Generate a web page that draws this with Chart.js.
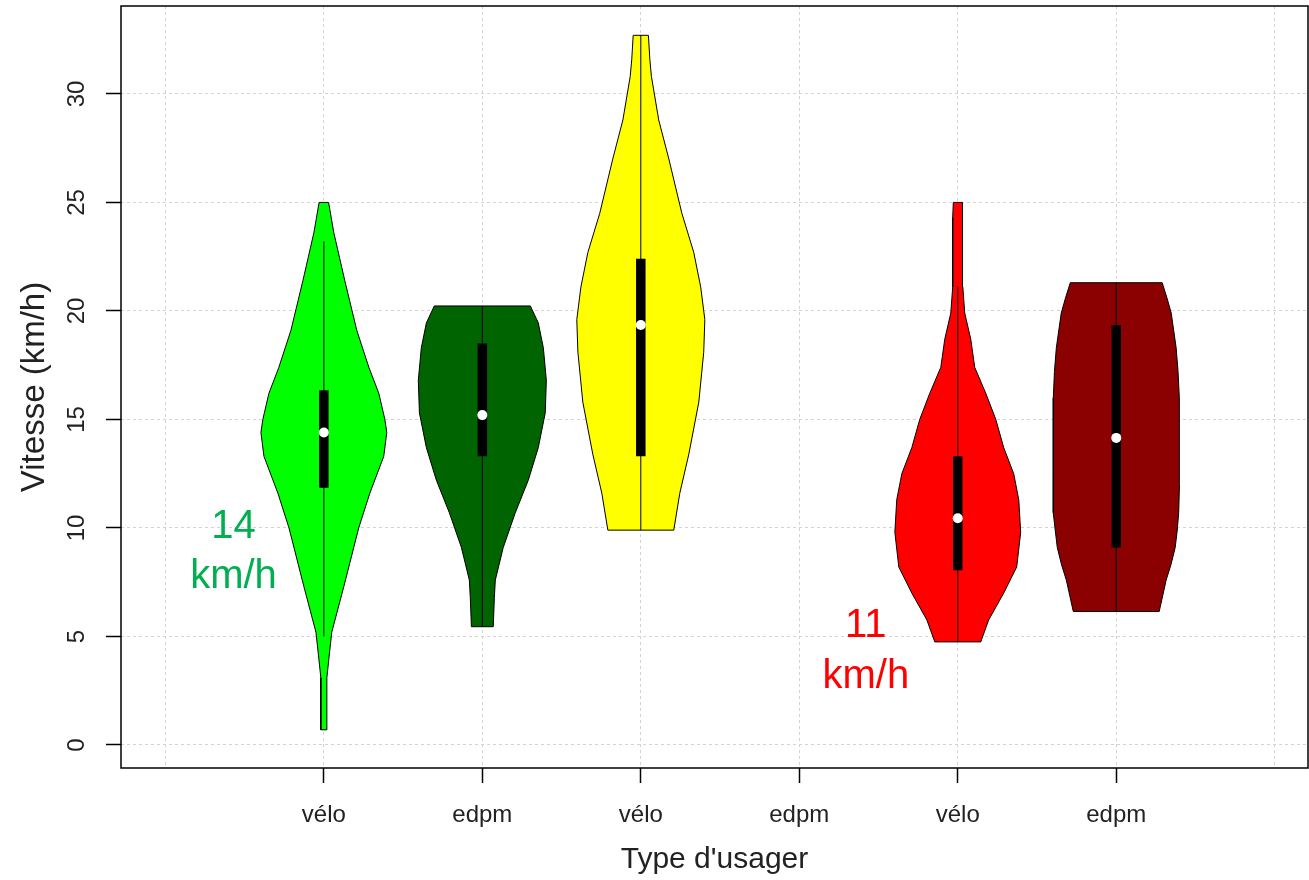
<!DOCTYPE html>
<html lang="fr">
<head>
<meta charset="utf-8">
<title>Vitesse par type d'usager</title>
<script src="https://cdn.jsdelivr.net/npm/chart.js@4.4.1/dist/chart.umd.min.js"></script>
<style>
html, body { margin: 0; padding: 0; background: #fff; }
#wrap { width: 1309px; height: 880px; position: relative; }
</style>
</head>
<body>
<div id="wrap"><canvas id="chart"></canvas></div>
<script>
/* axes */
const categories = ['vélo', 'edpm', 'vélo', 'edpm', 'vélo', 'edpm'];
const xGrid = [0, 1, 2, 3, 4, 5, 6, 7];
const yTicks = [0, 5, 10, 15, 20, 25, 30];

/* violin outlines: speed (km/h) and half width (category units) */
const v1Speed = [0.7, 3.1, 4.0, 5.2, 7.3, 10.0, 11.6, 13.3, 14.4, 15.0, 16.2, 17.4, 19.1, 21.4, 23.6, 25.0];
const v1Width = [0.019, 0.019, 0.032, 0.050, 0.126, 0.220, 0.290, 0.378, 0.397, 0.385, 0.347, 0.284, 0.208, 0.132, 0.063, 0.030];
const v2Speed = [5.45, 6.8, 7.6, 9.1, 10.7, 12.2, 13.7, 15.3, 16.8, 18.3, 19.45, 20.23];
const v2Width = [0.069, 0.076, 0.082, 0.132, 0.208, 0.290, 0.353, 0.397, 0.404, 0.385, 0.353, 0.303];
const v3Speed = [9.9, 11.6, 13.4, 15.8, 18.1, 19.6, 21.1, 22.7, 24.5, 27.0, 28.8, 30.8, 31.6, 32.7];
const v3Width = [0.208, 0.246, 0.303, 0.366, 0.397, 0.404, 0.378, 0.334, 0.259, 0.177, 0.113, 0.067, 0.057, 0.048];
const v4Speed = [4.75, 5.76, 7.0, 8.2, 9.8, 11.3, 12.5, 13.7, 15.0, 16.2, 17.4, 18.7, 19.9, 21.1, 24.3, 25.0];
const v4Width = [0.145, 0.195, 0.290, 0.372, 0.397, 0.385, 0.353, 0.290, 0.240, 0.177, 0.107, 0.082, 0.044, 0.032, 0.032, 0.028];
const v5Speed = [6.15, 7.6, 8.3, 9.1, 9.9, 10.7, 12.0, 13.7, 16.0, 17.2, 18.3, 19.9, 20.6, 21.3];
const v5Width = [0.271, 0.315, 0.345, 0.372, 0.385, 0.394, 0.399, 0.399, 0.397, 0.390, 0.378, 0.347, 0.320, 0.290];
const violinSlot = [1, 2, 3, 5, 6];

/* box stats per category (null = no data) */
const median = [14.4, 15.2, 19.35, null, 10.45, 14.15];
const q1 = [11.85, 13.3, 13.3, null, 8.05, 9.1];
const q3 = [16.35, 18.5, 22.4, null, 13.3, 19.35];
const whiskLo = [5.0, 5.45, 9.9, null, 4.75, 6.15];
const whiskHi = [23.2, 20.23, 32.7, null, 21.15, 21.3];

/* annotations */
const noteText = ['14', 'km/h', '11', 'km/h'];
const noteX = [0.43, 0.43, 4.42, 4.42];
const noteY = [9.54, 7.24, 4.98, 2.63];
const noteColor = ['#00b050', '#00b050', '#ff0000', '#ff0000'];

const fillColors = ['#00ff00', '#006400', '#ffff00', '#ff0000', '#8b0000'];
const FONT = '"Liberation Sans", Arial, sans-serif';

const outline = (c, sp, w) => {
  const right = sp.map((s, i) => ({x: c + w[i], y: s}));
  const left = sp.map((s, i) => ({x: c - w[i], y: s})).reverse();
  return [...right, ...left, right[0]];
};

const violins = [[v1Speed, v1Width], [v2Speed, v2Width], [v3Speed, v3Width], [v4Speed, v4Width], [v5Speed, v5Width]];
const datasets = [];

violins.forEach(([sp, w], i) => {
  datasets.push({
    data: outline(violinSlot[i], sp, w),
    showLine: true, fill: 'shape', backgroundColor: fillColors[i],
    borderColor: '#000', borderWidth: 1, pointRadius: 0, order: 3
  });
});

categories.forEach((c, i) => {
  if (median[i] == null) return;
  const pos = i + 1;
  datasets.push({
    data: [{x: pos, y: whiskLo[i]}, {x: pos, y: whiskHi[i]}],
    showLine: true, borderColor: '#000', borderWidth: 1, pointRadius: 0, order: 2
  });
  datasets.push({
    data: [{x: pos, y: q1[i]}, {x: pos, y: q3[i]}],
    showLine: true, borderColor: '#000', borderWidth: 9.5, borderCapStyle: 'butt', pointRadius: 0, order: 1
  });
  datasets.push({
    data: [{x: pos, y: median[i]}],
    pointRadius: 5, pointBackgroundColor: '#fff', pointBorderWidth: 0, order: 0
  });
});

/* frame, rotated y labels and text notes */
const extras = {
  id: 'extras',
  afterDraw(chart) {
    const {ctx, chartArea: a, scales: {x, y}} = chart;
    ctx.save();
    ctx.strokeStyle = '#000';
    ctx.lineWidth = 1.5;
    ctx.strokeRect(a.left, a.top, a.right - a.left, a.bottom - a.top);

    ctx.fillStyle = '#222';
    ctx.font = '24px ' + FONT;
    ctx.textAlign = 'center';
    ctx.textBaseline = 'middle';
    yTicks.forEach(v => {
      ctx.save();
      ctx.translate(a.left - 44, y.getPixelForValue(v));
      ctx.rotate(-Math.PI / 2);
      ctx.fillText(String(v), 0, 0);
      ctx.restore();
    });

    ctx.font = '40px ' + FONT;
    ctx.textBaseline = 'alphabetic';
    noteText.forEach((t, i) => {
      ctx.fillStyle = noteColor[i];
      ctx.fillText(t, x.getPixelForValue(noteX[i]), y.getPixelForValue(noteY[i]));
    });
    ctx.restore();
  }
};

new Chart(document.getElementById('chart'), {
  type: 'scatter',
  data: { datasets },
  plugins: [extras],
  options: {
    responsive: true,
    maintainAspectRatio: false,
    animation: false,
    events: [],
    layout: { autoPadding: false, padding: { top: 6, right: 1, left: 0, bottom: 0 } },
    plugins: { legend: { display: false }, tooltip: { enabled: false } },
    scales: {
      x: {
        type: 'linear', min: -0.28, max: 7.21,
        afterBuildTicks: s => { s.ticks = xGrid.map(v => ({value: v})); },
        afterFit: s => { s.height = 112; },
        border: { display: false, dash: [3, 3] },
        grid: {
          color: '#d3d3d3', lineWidth: 1,
          tickLength: 15, tickWidth: 1.5, tickBorderDash: [],
          tickColor: c => (c.tick && c.tick.value >= 1 && c.tick.value <= 6) ? '#000' : 'rgba(0,0,0,0)'
        },
        ticks: {
          autoSkip: false, maxRotation: 0, padding: 18, color: '#222',
          font: { size: 24, family: FONT },
          callback: v => categories[v - 1] ?? ''
        },
        title: {
          display: true, text: "Type d'usager", color: '#222',
          font: { size: 30, family: FONT }, padding: { top: 0, bottom: 2 }
        }
      },
      y: {
        type: 'linear', min: -1.06, max: 34.05,
        afterBuildTicks: s => { s.ticks = yTicks.map(v => ({value: v})); },
        afterFit: s => { s.width = 121; },
        border: { display: false, dash: [3, 3] },
        grid: { color: '#d3d3d3', lineWidth: 1, tickLength: 15, tickWidth: 1.5, tickBorderDash: [], tickColor: '#000' },
        ticks: { display: false },
        title: {
          display: true, text: 'Vitesse (km/h)', color: '#222',
          font: { size: 33, family: FONT }, padding: { top: 15, bottom: 0 }
        }
      }
    }
  }
});
</script>
</body>
</html>
